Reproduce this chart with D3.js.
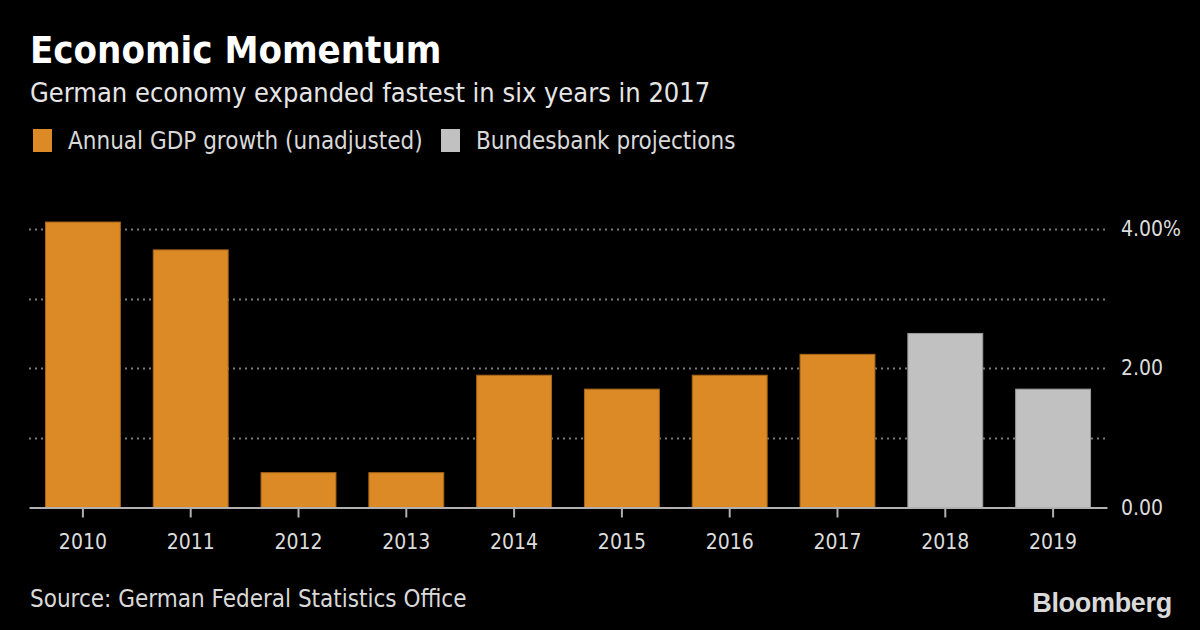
<!DOCTYPE html>
<html><head><meta charset="utf-8">
<script src="https://cdn.jsdelivr.net/npm/d3@7"></script>
<style>
html,body{margin:0;padding:0;background:#000;}
svg{display:block;}
text{font-family:"DejaVu Sans Condensed","DejaVu Sans",sans-serif;font-stretch:condensed;}
</style></head>
<body>
<svg id="c" width="1200" height="630"></svg>
<script>
const years = ["2010","2011","2012","2013","2014","2015","2016","2017","2018","2019"];
const growth = [4.1, 3.7, 0.5, 0.5, 1.9, 1.7, 1.9, 2.2, 2.5, 1.7];
const seriesType = ["actual","actual","actual","actual","actual","actual","actual","actual","projection","projection"];
const yTicks = [0, 1, 2, 3, 4];
const yTickLabels = ["0.00", "", "2.00", "", "4.00%"];
const legendLabels = ["Annual GDP growth (unadjusted)", "Bundesbank projections"];

const colors = {actual:"#DB8A25", projection:"#C1C1C1"};
const strokes = {actual:"#A8661A", projection:"#9a9a9a"};

const svg = d3.select("#c");
svg.append("rect").attr("width",1200).attr("height",630).attr("fill","#000");

// Title
svg.append("text").attr("x",30).attr("y",63).attr("fill","#fff")
  .attr("font-size",38).attr("font-weight","bold").text("Economic Momentum");
svg.append("text").attr("x",30).attr("y",102).attr("fill","#e6e6e6")
  .attr("font-size",27).text("German economy expanded fastest in six years in 2017");

// Legend
const legX = [33, 441];
const legKeys = ["actual","projection"];
legKeys.forEach((k,i)=>{
  svg.append("rect").attr("x",legX[i]).attr("y",129).attr("width",19).attr("height",23).attr("fill",colors[k]);
  svg.append("text").attr("x",legX[i]+35).attr("y",149).attr("fill","#d9d9d9")
    .attr("font-size",24).text(legendLabels[i]);
});

const x = d3.scaleBand().domain(years).range([29,1107]).paddingInner(0.296).paddingOuter(0.148);
const y = d3.scaleLinear().domain([0,4]).range([507.5,229]);

// gridlines
svg.append("g").selectAll("line").data(yTicks.filter(d=>d>0)).join("line")
  .attr("x1",29).attr("x2",1107).attr("y1",d=>Math.round(y(d))+0.5).attr("y2",d=>Math.round(y(d))+0.5)
  .attr("stroke","#7a7a7a").attr("stroke-width",2).attr("stroke-dasharray","2,4");

// bars
svg.append("g").selectAll("rect").data(years).join("rect")
  .attr("x",d=>x(d)+0.5).attr("width",x.bandwidth()-1)
  .attr("y",(d,i)=>y(growth[i])).attr("height",(d,i)=>y(0)-y(growth[i]))
  .attr("fill",(d,i)=>colors[seriesType[i]])
  .attr("stroke",(d,i)=>strokes[seriesType[i]]).attr("stroke-width",1);

// x axis
const xAxis = d3.axisBottom(x).tickSize(10).tickSizeOuter(0);
const gx = svg.append("g").attr("transform",`translate(0,${y(0)})`).call(xAxis);
gx.select(".domain").attr("stroke","#b0b0b0").attr("stroke-width",2);
gx.selectAll(".tick line").attr("stroke","#b0b0b0").attr("stroke-width",2);
gx.selectAll(".tick text").attr("fill","#dcdcdc").attr("font-size",21)
  .attr("font-family","DejaVu Sans Condensed, DejaVu Sans, sans-serif").attr("dy","1.35em");

// y axis
const yAxis = d3.axisRight(y).tickValues(yTicks).tickSize(0).tickFormat((d,i)=>yTickLabels[i]);
const gy = svg.append("g").attr("transform","translate(1121,0)").call(yAxis);
gy.select(".domain").remove();
gy.selectAll(".tick text").attr("fill","#dcdcdc").attr("font-size",21).attr("x",0)
  .attr("font-family","DejaVu Sans Condensed, DejaVu Sans, sans-serif");

// source
svg.append("text").attr("x",30).attr("y",607).attr("fill","#d9d9d9")
  .attr("font-size",24).text("Source: German Federal Statistics Office");
svg.append("text").attr("x",1172).attr("y",612).attr("text-anchor","end").attr("fill","#d9d9d9")
  .attr("font-size",27).attr("font-weight","bold").style("font-family","Liberation Sans, Arial, sans-serif")
  .style("font-stretch","normal").style("letter-spacing","-0.3px").text("Bloomberg");
</script>
</body></html>
